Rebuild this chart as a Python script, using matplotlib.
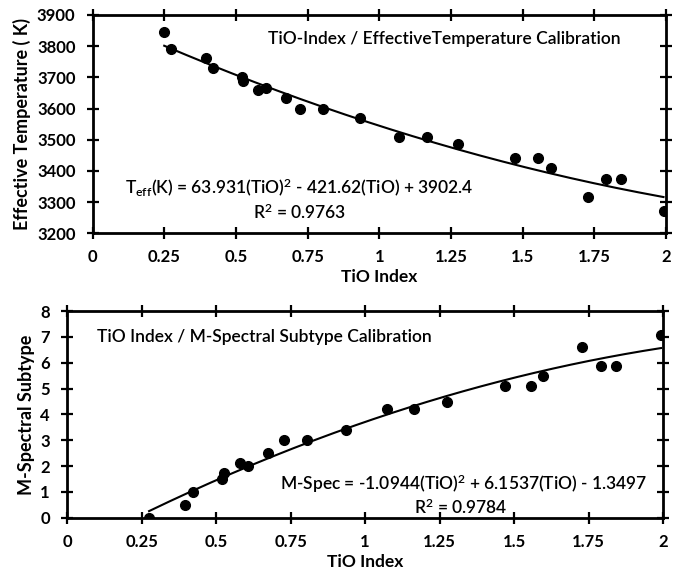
import matplotlib
matplotlib.use("Agg")
import matplotlib.pyplot as plt
import numpy as np
from matplotlib.ticker import FuncFormatter, MultipleLocator

# TiO index vs effective temperature
tio_teff = [0.249, 0.272, 0.395, 0.421, 0.519, 0.525, 0.577, 0.606, 0.673, 0.724,
            0.803, 0.934, 1.069, 1.165, 1.273, 1.473, 1.555, 1.598, 1.727, 1.790,
            1.842, 1.992]
teff = [3846, 3790, 3762, 3731, 3701, 3687, 3660, 3667, 3634, 3598,
        3598, 3571, 3510, 3510, 3487, 3441, 3441, 3408, 3315, 3374,
        3374, 3270]
teff_coef = [63.931, -421.62, 3902.4]

# TiO index vs M spectral subtype
tio_spec = [0.275, 0.396, 0.423, 0.520, 0.528, 0.579, 0.608, 0.675, 0.728, 0.804,
            0.936, 1.072, 1.165, 1.276, 1.471, 1.556, 1.596, 1.727, 1.792, 1.842,
            1.993]
mspec = [0.0, 0.51, 1.0, 1.49, 1.73, 2.12, 2.0, 2.5, 3.0, 3.0,
         3.4, 4.21, 4.2, 4.5, 5.1, 5.1, 5.5, 6.59, 5.88, 5.88,
         7.07]
spec_coef = [-1.0944, 6.1537, -1.3497]

plt.rcParams["font.family"] = ["Lato", "DejaVu Sans"]
plt.rcParams["mathtext.fontset"] = "custom"
plt.rcParams["mathtext.rm"] = "Lato:semibold"
plt.rcParams["mathtext.it"] = "Lato:semibold"

ANN = dict(fontsize=12.5, fontweight="semibold")


def style(ax):
    for s in ax.spines.values():
        s.set_linewidth(2)
    ax.tick_params(direction="inout", length=9, width=1.6, top=True, right=True,
                   labelsize=12)
    ax.tick_params(axis="y", pad=8)
    ax.tick_params(axis="x", pad=7)
    for lab in ax.get_xticklabels() + ax.get_yticklabels():
        lab.set_fontweight("bold")
    ax.xaxis.set_major_locator(MultipleLocator(0.25))
    ax.xaxis.set_major_formatter(FuncFormatter(lambda v, p: f"{v:g}"))


fig = plt.figure(figsize=(6.78, 5.76), dpi=100)
ax1 = fig.add_axes([0.137, 0.595, 0.845, 0.379])
ax2 = fig.add_axes([0.099, 0.101, 0.879, 0.359])

# top panel
ax1.plot(tio_teff, teff, "o", color="black", ms=7)
xx = np.linspace(min(tio_teff), max(tio_teff), 200)
ax1.plot(xx, np.polyval(teff_coef, xx), color="black", lw=1.5)
ax1.set_xlim(0, 2)
ax1.set_ylim(3200, 3900)
ax1.yaxis.set_major_locator(MultipleLocator(100))
style(ax1)
ax1.set_xlabel("TiO Index", fontsize=12.5, fontweight="bold", labelpad=3)
ax1.set_ylabel("Effective Temperature ( K)", fontsize=13, fontweight="bold")
ax1.text(0.614, 0.89, "TiO-Index / EffectiveTemperature Calibration",
         transform=ax1.transAxes, ha="center", va="center", **ANN)
ax1.text(0.36, 0.21, r"T$_{\rm eff}$(K) = 63.931(TiO)$^{\rm 2}$ - 421.62(TiO) + 3902.4",
         transform=ax1.transAxes, ha="center", va="center", **ANN)
ax1.text(0.36, 0.095, r"R$^{\rm 2}$ = 0.9763", transform=ax1.transAxes,
         ha="center", va="center", **ANN)

# bottom panel
ax2.plot(tio_spec, mspec, "o", color="black", ms=7)
xx = np.linspace(min(tio_spec), max(tio_spec), 200)
ax2.plot(xx, np.polyval(spec_coef, xx), color="black", lw=1.5)
ax2.set_xlim(0, 2)
ax2.set_ylim(0, 8)
ax2.yaxis.set_major_locator(MultipleLocator(1))
style(ax2)
ax2.set_xlabel("TiO Index", fontsize=12.5, fontweight="bold", labelpad=3)
ax2.set_ylabel("M-Spectral Subtype", fontsize=13, fontweight="bold")
ax2.text(0.05, 0.875, "TiO Index / M-Spectral Subtype Calibration",
         transform=ax2.transAxes, ha="left", va="center", **ANN)
ax2.text(0.666, 0.165, r"M-Spec = -1.0944(TiO)$^{\rm 2}$ + 6.1537(TiO) - 1.3497",
         transform=ax2.transAxes, ha="center", va="center", **ANN)
ax2.text(0.66, 0.05, r"R$^{\rm 2}$ = 0.9784", transform=ax2.transAxes,
         ha="center", va="center", **ANN)

fig.savefig("out.png", dpi=100)
